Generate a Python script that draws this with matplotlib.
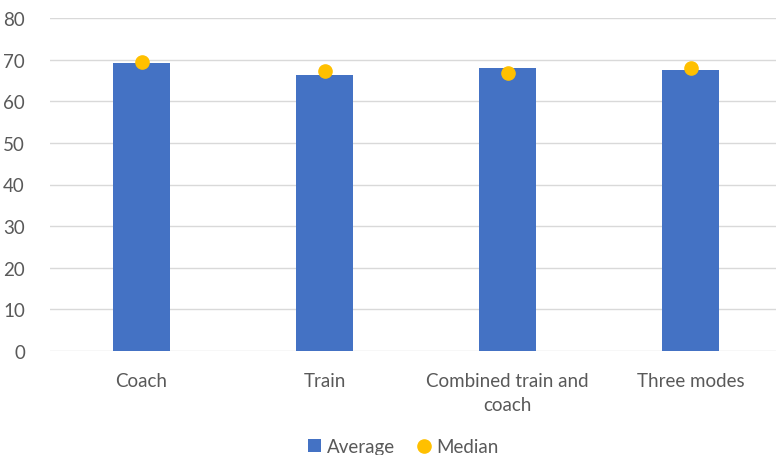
import matplotlib.pyplot as plt
import numpy as np

plt.rcParams['font.family'] = ['Lato', 'DejaVu Sans']

modes = ['Coach', 'Train', 'Combined train and\ncoach', 'Three modes']
average = [69.1, 66.2, 68.0, 67.5]
median = [69.4, 67.2, 66.9, 68.0]

blue = '#4472C4'
gold = '#FFC000'
grey = '#595959'

fig = plt.figure(figsize=(7.76, 4.56), dpi=100)
ax = fig.add_axes([50 / 776, 104 / 456, 732 / 776, 333 / 456])

x = np.arange(len(modes))
bars = ax.bar(x, average, width=0.31, color=blue, zorder=2, label='Average')
dots, = ax.plot(x, median, 'o', color=gold, markersize=9.5, zorder=3, label='Median')

ax.set_xlim(-0.5, len(modes) - 0.5)
ax.set_ylim(0, 80)
ax.set_yticks(range(0, 81, 10))
ax.set_xticks(x)
ax.set_xticklabels(modes, linespacing=1.5)
ax.grid(axis='y', color='#D9D9D9', linewidth=1, zorder=0)
for s in ax.spines.values():
    s.set_visible(False)
ax.tick_params(axis='both', length=0, labelsize=13.5, labelcolor=grey)
ax.tick_params(axis='y', pad=18)
ax.tick_params(axis='x', pad=15)

leg = fig.legend([bars, dots], ['Average', 'Median'], loc='center',
                 bbox_to_anchor=(0.52, 0.018), ncol=2, frameon=False,
                 fontsize=13.5, handlelength=0.7, handleheight=0.7,
                 handletextpad=0.3, columnspacing=1.2)
for t in leg.get_texts():
    t.set_color(grey)

fig.savefig('out.png', dpi=100)
